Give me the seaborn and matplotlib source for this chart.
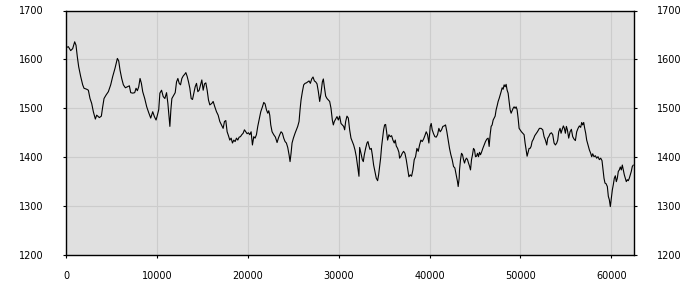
import matplotlib
matplotlib.use("Agg")
import matplotlib.pyplot as plt
import seaborn as sns
import pandas as pd

samples = [
    0, 257, 514, 734, 954, 1101, 1248, 1395, 1615, 1835, 1982, 2276, 2459, 2643, 2826,
    3009, 3230, 3376, 3670, 3890, 4037, 4184, 4404, 4661, 4918, 5138, 5395, 5652, 5799,
    5946, 6129, 6313, 6533, 6753, 6973, 7120, 7340, 7560, 7707, 7854, 8001, 8148, 8295,
    8441, 8662, 8882, 9102, 9322, 9542, 9726, 9909, 10056, 10202,
    10331, 10514, 10697, 10880, 11064, 11210, 11357, 11430, 11540, 11650, 11870, 12016,
    12163, 12309, 12456, 12602, 12749, 12895, 13078, 13188, 13335, 13481, 13628, 13774,
    13921, 14067, 14214, 14360, 14507, 14653, 14800, 14946, 15093, 15239, 15386, 15532,
    15679, 15826, 16045, 16192, 16375, 16558, 16741, 16924, 17108, 17291, 17437, 17584,
    17730, 17877, 18023, 18170, 18316, 18463, 18609, 18756, 18902, 19049, 19195, 19342,
    19489, 19635, 19782, 19928, 20075, 20221, 20368, 20514, 20661, 20807, 20954, 21100, 21247,
    21431, 21614, 21761, 21907, 22054, 22200, 22310, 22420, 22530, 22676, 22859, 23043,
    23226, 23372, 23519, 23665, 23812, 23958, 24105, 24251, 24398, 24544, 24654, 24764,
    24874, 25021, 25204, 25350, 25497, 25643, 25753, 25863, 26010, 26156, 26303, 26449,
    26596, 26742, 26889, 27035, 27182, 27328, 27475, 27621, 27768, 27914, 28061, 28207,
    28317, 28427, 28574, 28720, 28867, 29013, 29160, 29306, 29416, 29526, 29673, 29819,
    29966, 30112, 30259, 30405, 30552, 30662, 30772, 30918, 31065, 31211, 31358, 31504,
    31651, 31797, 31944, 32090, 32237,
    32311, 32458, 32604, 32714, 32824, 32970, 33117, 33227, 33337, 33447, 33593, 33703,
    33849, 33996, 34143, 34289, 34399, 34509, 34619, 34729, 34839, 34948, 35058, 35168,
    35278, 35388, 35534, 35681, 35827, 35974, 36120, 36230, 36340, 36487, 36633, 36707,
    36853, 37000, 37146, 37293, 37439, 37586, 37732, 37879, 38025, 38172, 38318, 38465,
    38611, 38758, 38904, 39051, 39197, 39344, 39490, 39637, 39783, 39930, 40077, 40186,
    40296, 40443, 40589, 40736, 40882, 41029, 41175, 41322, 41469, 41615, 41762, 41908,
    42055, 42201, 42348, 42494, 42641, 42787, 42934, 43080, 43153, 43263,
    43301, 43411, 43521, 43631, 43741, 43850, 43960, 44070, 44180, 44290, 44400, 44510,
    44620, 44730, 44839, 44949, 45059, 45169, 45279, 45389, 45499, 45609, 45719, 45865,
    46012, 46158, 46305, 46451, 46561, 46671, 46781, 46891, 47001, 47111, 47220, 47330,
    47440, 47550, 47660, 47770, 47880, 47990, 48100, 48209, 48319, 48429, 48539, 48649,
    48759, 48869, 48979, 49089, 49198, 49308, 49418, 49528, 49638, 49748, 49858, 49968,
    50114, 50261, 50407, 50517, 50627, 50737, 50847, 50957, 51067, 51176, 51286, 51433,
    51579, 51726, 51872,
    52093, 52276, 52459, 52606, 52752, 52899, 53009, 53119, 53265, 53412, 53558, 53705,
    53851, 53998, 54108, 54218, 54364, 54474, 54584, 54730, 54840, 54950, 55060, 55170,
    55316, 55463, 55609, 55756, 55902, 56049, 56196, 56342, 56489, 56635, 56745, 56855,
    56965, 57075, 57185, 57294, 57441, 57588, 57734, 57844, 57954, 58100, 58247, 58393,
    58540, 58686, 58833, 58979, 59089, 59199, 59309, 59419, 59566, 59675, 59785, 59895,
    60005, 60115, 60225, 60335, 60445, 60555, 60664, 60774, 60884, 60994, 61104, 61214,
    61324, 61434, 61544, 61653, 61763, 61873, 61983, 62093, 62203, 62313, 62423,
]

values = [
    1624, 1626, 1618, 1622, 1636, 1629, 1605, 1585, 1565, 1548, 1541, 1539, 1537, 1520, 1510,
    1493, 1478, 1486, 1481, 1484, 1503, 1520, 1527, 1534, 1548, 1565, 1582, 1602, 1597,
    1578, 1561, 1548, 1542, 1544, 1546, 1532, 1531, 1532, 1541, 1536, 1544, 1561, 1551,
    1534, 1520, 1503, 1491, 1480, 1493, 1483, 1476, 1486, 1497,
    1531, 1537, 1524, 1520, 1532, 1510, 1480, 1463, 1497, 1520, 1527, 1532,
    1554, 1561, 1551, 1548, 1561, 1566, 1570, 1573, 1565, 1554, 1541, 1520,
    1518, 1531, 1544, 1551, 1534, 1537, 1548, 1558, 1537, 1550, 1552, 1537,
    1517, 1507, 1510, 1514, 1503, 1493, 1486, 1473, 1466, 1459, 1473, 1475,
    1452, 1444, 1435, 1439, 1429, 1435, 1432, 1439, 1435, 1441, 1442, 1446,
    1449, 1456, 1452, 1448, 1450, 1446, 1452, 1425, 1442, 1439, 1446, 1463, 1476,
    1493, 1503, 1512, 1509, 1497, 1490, 1495, 1486, 1466, 1452, 1446, 1441,
    1430, 1439, 1446, 1452, 1449, 1439, 1432, 1429, 1420, 1405, 1391, 1408,
    1429, 1439, 1449, 1456, 1463, 1473, 1497, 1517, 1534, 1548, 1551, 1552,
    1554, 1556, 1551, 1560, 1564, 1556, 1554, 1550, 1534, 1514, 1531, 1554,
    1560, 1544, 1525, 1520, 1517, 1514, 1500, 1476, 1466, 1473, 1478, 1483,
    1476, 1484, 1469, 1466, 1463, 1456, 1473, 1484, 1480, 1456, 1439, 1432,
    1425, 1415, 1401, 1381, 1361,
    1420, 1408, 1395, 1391, 1405, 1418, 1429, 1432, 1423, 1416, 1418, 1405,
    1384, 1371, 1357, 1352, 1364, 1381, 1398, 1422, 1439, 1456, 1466, 1467,
    1452, 1435, 1446, 1442, 1444, 1435, 1429, 1435, 1423, 1418, 1410, 1398,
    1402, 1408, 1412, 1408, 1395, 1378, 1360, 1364, 1361, 1374, 1395, 1401,
    1418, 1412, 1425, 1435, 1432, 1437, 1444, 1452, 1446, 1429, 1463, 1469,
    1456, 1448, 1442, 1441, 1446, 1459, 1452, 1456, 1463, 1464, 1466, 1452,
    1435, 1418, 1405, 1395, 1381, 1378, 1364, 1350, 1340, 1357,
    1374, 1395, 1408, 1405, 1395, 1388, 1395, 1398, 1395, 1388, 1382, 1374,
    1395, 1405, 1418, 1415, 1401, 1402, 1408, 1401, 1410, 1405, 1410, 1418,
    1425, 1432, 1437, 1439, 1422, 1446, 1463, 1466, 1476, 1480, 1484, 1497,
    1505, 1514, 1520, 1527, 1534, 1542, 1539, 1548, 1544, 1549, 1537, 1531,
    1514, 1497, 1490, 1495, 1500, 1503, 1500, 1503, 1497, 1480, 1459, 1456,
    1452, 1449, 1446, 1429, 1415, 1402, 1410, 1418, 1418, 1422, 1432, 1437,
    1444, 1448, 1452,
    1459, 1459, 1456, 1442, 1435, 1425, 1439, 1442, 1448, 1450, 1446, 1429,
    1425, 1429, 1435, 1452, 1459, 1449, 1456, 1464, 1459, 1449, 1463, 1456,
    1439, 1452, 1457, 1442, 1437, 1434, 1452, 1459, 1464, 1461, 1471, 1466,
    1471, 1459, 1449, 1435, 1425, 1415, 1408, 1401, 1407, 1401, 1403, 1398,
    1401, 1395, 1398, 1393, 1374, 1357, 1347, 1346, 1340, 1320, 1313, 1299,
    1316, 1333, 1344, 1357, 1362, 1350, 1357, 1371, 1374, 1380, 1374, 1384,
    1374, 1364, 1357, 1350, 1354, 1352, 1357, 1364, 1371, 1381, 1384,
]

x_ticks = [0, 10000, 20000, 30000, 40000, 50000, 60000]
y_ticks = [1200, 1300, 1400, 1500, 1600, 1700]

assert len(samples) == len(values), (len(samples), len(values))

df = pd.DataFrame({"sample": samples, "value": values})

sns.set_style("white")
plt.rcParams["font.family"] = ["DejaVu Sans"]

fig = plt.figure(figsize=(7, 3), dpi=100)
ax = fig.add_axes([66 / 700, 1 - 255 / 300, (634 - 66) / 700, (255 - 10.5) / 300])
ax.set_facecolor("#e0e0e0")

sns.lineplot(data=df, x="sample", y="value", ax=ax, color="black", linewidth=0.8)

ax.set_xlim(0, 62500)
ax.set_ylim(1200, 1700)
ax.set_xticks(x_ticks)
ax.set_yticks(y_ticks)
ax.set_xticklabels([str(t) for t in x_ticks])
ax.set_yticklabels([str(t) for t in y_ticks])
ax.set_xlabel("")
ax.set_ylabel("")
ax.grid(True, color="#cccccc", linewidth=0.8)
ax.set_axisbelow(True)

for s in ax.spines.values():
    s.set_visible(True)
    s.set_color("black")
    s.set_linewidth(1.0)

ax.tick_params(axis="y", which="both", left=True, right=True, labelleft=True,
               labelright=True, length=2.5, width=0.8, color="black",
               labelsize=7, pad=14, labelcolor="black")
ax.tick_params(axis="x", which="both", bottom=True, length=2.5, width=0.8,
               color="black", labelsize=7, pad=9, labelcolor="black")

fig.savefig("out.png", dpi=100, facecolor="white")
